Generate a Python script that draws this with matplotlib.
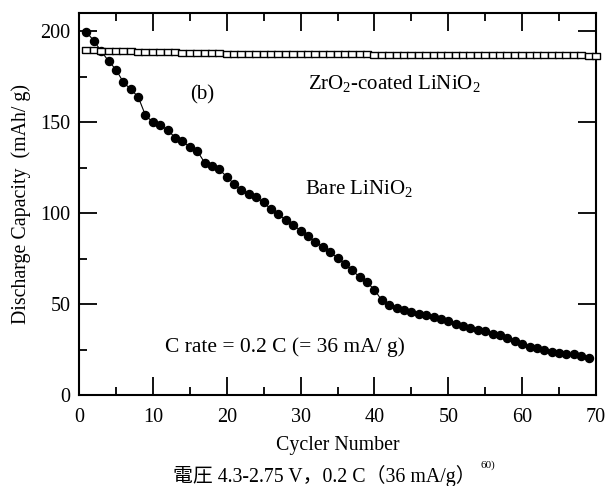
import matplotlib
matplotlib.use("Agg")
import numpy as np
import matplotlib.pyplot as plt
from matplotlib.ticker import MultipleLocator

# 放電容量 vs サイクル数
cycles_bare = list(range(1, 70))
cap_bare = [199.5, 194.8, 189.0, 183.6, 178.9, 172.0, 168.0, 164.0, 153.7, 150.0,
            148.3, 145.7, 141.5, 139.6, 136.3, 134.2, 127.8, 126.0, 124.0, 120.0,
            116.0, 112.6, 110.5, 108.6, 105.9, 102.0, 99.4, 96.1, 93.4, 90.4,
            87.6, 84.0, 81.6, 78.5, 75.4, 72.1, 68.5, 64.8, 61.9, 57.9,
            52.0, 49.3, 48.0, 46.9, 45.6, 44.4, 43.8, 42.9, 42.0, 40.7,
            38.9, 37.8, 36.9, 36.0, 35.0, 33.8, 32.9, 31.6, 29.6, 28.3,
            26.5, 25.6, 24.6, 23.7, 23.2, 22.8, 22.5, 21.5, 20.4]

cycles_zr = list(range(1, 71))
cap_zr = [189.5, 189.4, 189.3, 189.2, 189.1, 189.0, 188.9, 188.8, 188.7, 188.6,
          188.5, 188.4, 188.3, 188.2, 188.2, 188.1, 188.0, 187.9, 187.8, 187.7,
          187.7, 187.6, 187.6, 187.5, 187.5, 187.4, 187.4, 187.4, 187.3, 187.3,
          187.3, 187.3, 187.2, 187.2, 187.2, 187.2, 187.2, 187.2, 187.2, 187.1,
          187.1, 187.1, 187.1, 187.1, 187.0, 187.0, 187.0, 187.0, 187.0, 187.0,
          186.9, 186.9, 186.9, 186.9, 186.9, 186.9, 186.8, 186.8, 186.8, 186.8,
          186.8, 186.8, 186.7, 186.7, 186.7, 186.7, 186.7, 186.7, 186.6, 186.6]

xticks = [0, 10, 20, 30, 40, 50, 60, 70]
yticks = [0, 50, 100, 150, 200]

plt.rcParams['font.family'] = ['Liberation Serif', 'Noto Sans CJK JP']
plt.rcParams['font.size'] = 14
plt.rcParams['mathtext.fontset'] = 'custom'
plt.rcParams['mathtext.rm'] = 'Liberation Serif'
plt.rcParams['mathtext.it'] = 'Liberation Serif:italic'
plt.rcParams['mathtext.bf'] = 'Liberation Serif:bold'

# 横長の四角マーカー
rect = [(-1, -0.7), (1, -0.7), (1, 0.7), (-1, 0.7), (-1, -0.7)]

fig = plt.figure(figsize=(6.11, 4.86), dpi=100)
ax = fig.add_axes([0.1293, 0.1872, 0.8462, 0.7861])

ax.plot(cycles_bare, cap_bare, '-', color='black', lw=0.8, marker='o',
        ms=5.8, mfc='black', mec='black', zorder=2)
ax.plot(cycles_zr, cap_zr, '-', color='black', lw=0.8, marker=rect,
        ms=5.6, mfc='white', mec='black', mew=1.0, zorder=3, clip_on=False)

ax.set_xlim(0, 70)
ax.set_ylim(0, 210)
ax.set_xticks(xticks)
ax.set_yticks(yticks)
ax.xaxis.set_minor_locator(MultipleLocator(5))
ax.yaxis.set_minor_locator(MultipleLocator(25))

for s in ax.spines.values():
    s.set_linewidth(1.5)

ax.tick_params(which='major', direction='in', length=13, width=1.3,
               top=True, right=True, pad=6, labelsize=14.5)
ax.tick_params(axis='x', which='major', pad=9)
ax.tick_params(which='minor', direction='in', length=6, width=1.3,
               top=True, right=False)

ax.set_xlabel('Cycler Number', fontsize=14.3, labelpad=7)
ax.set_ylabel('Discharge Capacity  (mAh/ g)', fontsize=14.3, labelpad=7)

ax.text(15, 165, '(b)', fontsize=15, va='center', ha='left')
ax.text(31, 171, r'ZrO$_2$-coated LiNiO$_2$', fontsize=15, va='center', ha='left')
ax.text(30.6, 113.5, r'Bare LiNiO$_2$', fontsize=15, va='center', ha='left')
ax.text(11.6, 26.5, 'C rate = 0.2 C (= 36 mA/ g)', fontsize=15.5, va='center', ha='left')

fig.text(0.531, 0.020, '電圧 4.3-2.75 V，0.2 C（36 mA/g）', fontsize=14.3,
         ha='center', va='center')
fig.text(0.786, 0.042, '60)', fontsize=8, ha='left', va='center')

fig.savefig('out.png', dpi=100)
